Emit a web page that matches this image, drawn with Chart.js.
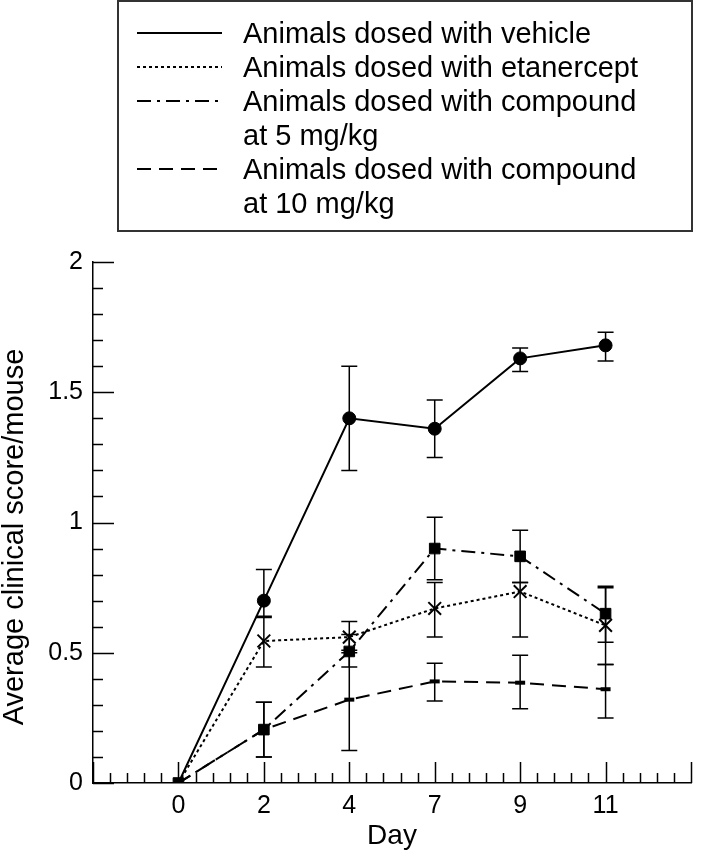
<!DOCTYPE html>
<html>
<head>
<meta charset="utf-8">
<script src="https://cdn.jsdelivr.net/npm/chart.js@4"></script>
<style>
  html, body { margin: 0; padding: 0; background: #fff; }
  canvas { display: block; }
</style>
</head>
<body>
<canvas id="myChart" width="702" height="853"></canvas>
<script>
// data
const days = ['0', '2', '4', '7', '9', '11'];
const xLabels = ['', '0', '2', '4', '7', '9', '11', ''];

const vehicle   = [0, 0.70, 1.40, 1.36, 1.63, 1.68];
const vehicleLo = [0, 0.64, 1.20, 1.25, 1.58, 1.62];
const vehicleHi = [0, 0.82, 1.60, 1.47, 1.67, 1.73];

const etanercept   = [0, 0.545, 0.56, 0.67, 0.735, 0.605];
const etanerceptLo = [0, 0.445, 0.50, 0.56, 0.56, 0.455];
const etanerceptHi = [0, 0.635, 0.62, 0.77, 0.77, 0.75];

const comp5   = [0, 0.205, 0.505, 0.90, 0.87, 0.65];
const comp5Lo = [0, 0.10, 0.445, 0.78, 0.77, 0.54];
const comp5Hi = [0, 0.31, 0.57, 1.02, 0.97, 0.755];

const comp10   = [0, 0.205, 0.32, 0.39, 0.385, 0.36];
const comp10Lo = [0, 0.10, 0.125, 0.315, 0.285, 0.25];
const comp10Hi = [0, 0.31, 0.51, 0.46, 0.49, 0.455];

const yTicks = [0, 0.5, 1, 1.5, 2];

const legendText = [
    ['Animals dosed with vehicle'],
    ['Animals dosed with etanercept'],
    ['Animals dosed with compound', 'at 5 mg/kg'],
    ['Animals dosed with compound', 'at 10 mg/kg']
];
const yTitle = 'Average clinical score/mouse';

const FONT = '"Liberation Sans", Arial, Helvetica, sans-serif';

const toPoints = vals => days.map((d, i) => ({ x: d, y: vals[i] }));
// hide every marker at day 0 except the square
const hideAtZero = r => ctx => (ctx.raw && ctx.raw.x === '0' ? 0 : r);

const datasets = [
    {
        label: legendText[0].join(' '),
        data: toPoints(vehicle),
        lo: vehicleLo, hi: vehicleHi,
        borderColor: '#000', backgroundColor: '#000',
        borderWidth: 2,
        pointStyle: 'circle',
        pointRadius: hideAtZero(6.5),
        pointBorderWidth: 1
    },
    {
        label: legendText[1].join(' '),
        data: toPoints(etanercept),
        lo: etanerceptLo, hi: etanerceptHi,
        borderColor: '#000', backgroundColor: '#000',
        borderWidth: 2,
        borderDash: [3, 3],
        pointStyle: 'crossRot',
        pointRadius: hideAtZero(9),
        pointBorderWidth: 2
    },
    {
        label: legendText[2].join(' '),
        data: toPoints(comp5),
        lo: comp5Lo, hi: comp5Hi,
        borderColor: '#000', backgroundColor: '#000',
        borderWidth: 2,
        borderDash: [14, 6, 3, 6],
        pointStyle: 'rect',
        pointRadius: 7.5,
        pointBorderWidth: 1
    },
    {
        label: legendText[3].join(' '),
        data: toPoints(comp10),
        lo: comp10Lo, hi: comp10Hi,
        borderColor: '#000', backgroundColor: '#000',
        borderWidth: 2,
        borderDash: [14, 8],
        pointStyle: 'line',
        pointRadius: hideAtZero(5),
        pointBorderWidth: 4
    }
];

// error bars, minor ticks, y title and the boxed legend
const extrasPlugin = {
    id: 'extras',
    beforeDatasetsDraw(chart) {
        const ctx = chart.ctx;
        const x = chart.scales.x, y = chart.scales.y;
        ctx.save();
        ctx.strokeStyle = '#000';
        ctx.lineWidth = 1.5;
        chart.data.datasets.forEach(ds => {
            days.forEach((d, i) => {
                if (ds.lo[i] === ds.hi[i]) return;
                const px = x.getPixelForValue(xLabels.indexOf(d));
                const y1 = y.getPixelForValue(ds.lo[i]);
                const y2 = y.getPixelForValue(ds.hi[i]);
                ctx.beginPath();
                ctx.moveTo(px, y1); ctx.lineTo(px, y2);
                ctx.moveTo(px - 8, y1); ctx.lineTo(px + 8, y1);
                ctx.moveTo(px - 8, y2); ctx.lineTo(px + 8, y2);
                ctx.stroke();
            });
        });
        ctx.restore();
    },
    afterDraw(chart) {
        const ctx = chart.ctx;
        const x = chart.scales.x, y = chart.scales.y;
        const area = chart.chartArea;
        ctx.save();
        ctx.strokeStyle = '#000';
        ctx.lineWidth = 1.5;
        ctx.beginPath();
        // y ticks, drawn inward
        for (let k = 0; k <= 20; k++) {
            const py = Math.round(y.getPixelForValue(k / 10)) + 0.5;
            const len = k % 5 === 0 ? 21 : 10;
            ctx.moveTo(area.left, py);
            ctx.lineTo(area.left + len, py);
        }
        // x ticks, drawn inward
        for (let i = 0; i < xLabels.length; i++) {
            const p0 = x.getPixelForValue(i);
            const p1 = x.getPixelForValue(i + 1);
            ctx.moveTo(Math.round(p0) + 0.5, area.bottom);
            ctx.lineTo(Math.round(p0) + 0.5, area.bottom - 21);
            if (i === xLabels.length - 1) break;
            for (let m = 1; m < 5; m++) {
                const pm = Math.round(p0 + (p1 - p0) * m / 5) + 0.5;
                ctx.moveTo(pm, area.bottom);
                ctx.lineTo(pm, area.bottom - 10);
            }
        }
        ctx.stroke();

        // y axis title, rotated
        ctx.save();
        ctx.translate(23, 537);
        ctx.rotate(-Math.PI / 2);
        ctx.fillStyle = '#000';
        ctx.font = '29px ' + FONT;
        ctx.textAlign = 'center';
        ctx.textBaseline = 'alphabetic';
        ctx.fillText(yTitle, 0, 0);
        ctx.restore();

        // legend box
        ctx.strokeStyle = '#333';
        ctx.lineWidth = 2;
        ctx.strokeRect(118, 1, 574, 230);
        ctx.fillStyle = '#000';
        ctx.font = '29px ' + FONT;
        ctx.textBaseline = 'alphabetic';
        let row = 0;
        chart.data.datasets.forEach((ds, i) => {
            const base = 43 + row * 34;
            ctx.strokeStyle = '#000';
            ctx.lineWidth = 2;
            ctx.setLineDash(ds.borderDash || []);
            ctx.beginPath();
            ctx.moveTo(137, base - 10);
            ctx.lineTo(222, base - 10);
            ctx.stroke();
            ctx.setLineDash([]);
            legendText[i].forEach(t => {
                ctx.fillText(t, 243, 43 + row * 34);
                row++;
            });
        });
        ctx.restore();
    }
};

const canvas = document.getElementById('myChart');
const chart = new Chart(canvas.getContext('2d'), {
    type: 'line',
    data: {
        labels: xLabels,
        datasets: datasets
    },
    options: {
        responsive: false,
        animation: false,
        layout: {
            padding: { top: 262, right: 1, bottom: 0, left: 0 }
        },
        plugins: {
            legend: { display: false },
            tooltip: { enabled: false }
        },
        scales: {
            x: {
                type: 'category',
                offset: false,
                grid: { display: false, drawTicks: false },
                border: { display: true, color: '#000', width: 1.5 },
                ticks: {
                    autoSkip: false,
                    maxRotation: 0,
                    padding: 8,
                    color: '#000',
                    font: { family: FONT, size: 25 }
                },
                title: {
                    display: true,
                    text: 'Day',
                    color: '#000',
                    padding: 0,
                    font: { family: FONT, size: 28 }
                },
                afterFit: scale => { scale.height = 70; }
            },
            y: {
                min: 0,
                max: 2,
                grid: { display: false, drawTicks: false },
                border: { display: true, color: '#000', width: 1.5 },
                afterBuildTicks: scale => {
                    scale.ticks = yTicks.map(v => ({ value: v }));
                },
                ticks: {
                    padding: 10,
                    color: '#000',
                    font: { family: FONT, size: 25 },
                    callback: v => String(v)
                },
                title: { display: false },
                afterFit: scale => { scale.width = 93; }
            }
        }
    },
    plugins: [extrasPlugin]
});
</script>
</body>
</html>
